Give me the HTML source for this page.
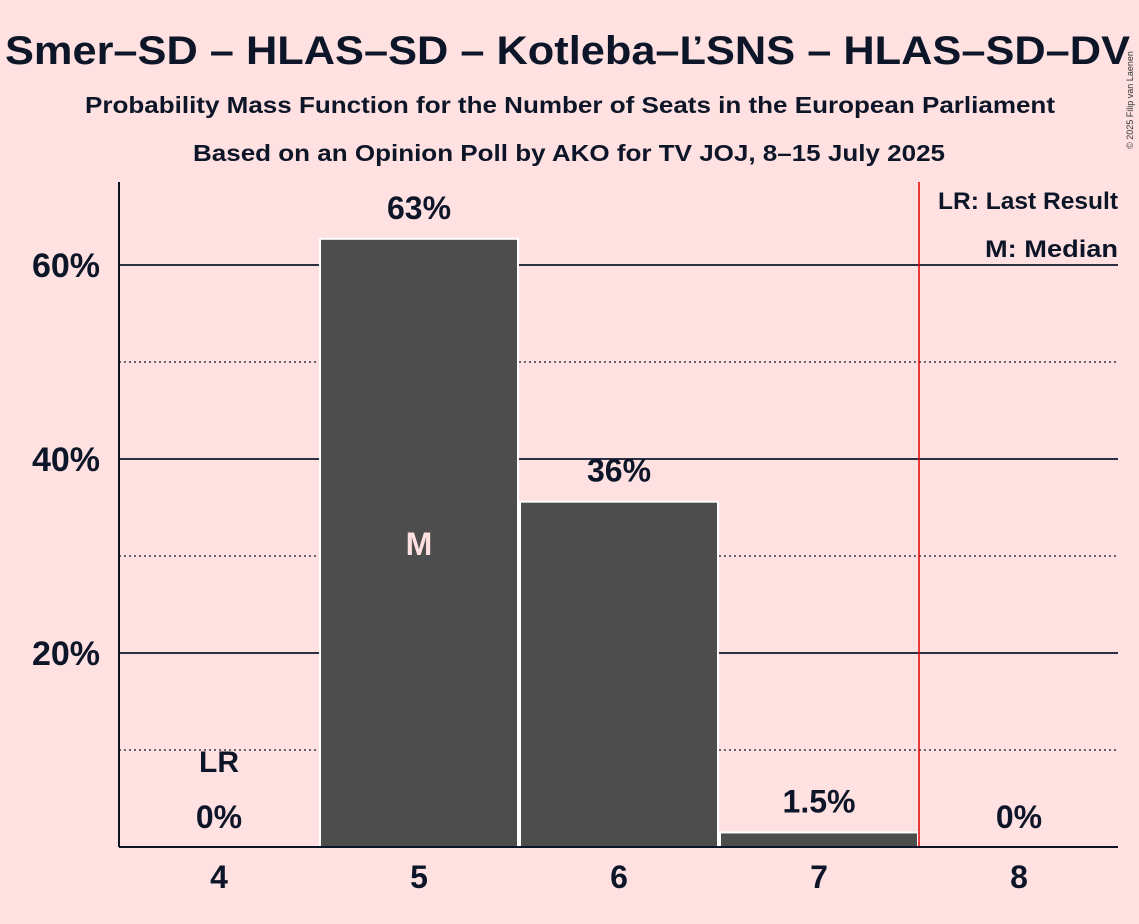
<!DOCTYPE html>
<html><head><meta charset="utf-8"><style>
body{margin:0;background:#FFE1E1;}
svg{display:block;font-family:"Liberation Sans",sans-serif;}
</style></head><body>
<svg id="c" width="1139" height="924">
<rect width="1139" height="924" fill="#FFE1E1"/>
<text x="5" y="64" font-size="40" font-weight="bold" fill="#0d1628" textLength="1125" lengthAdjust="spacingAndGlyphs">Smer–SD – HLAS–SD – Kotleba–ĽSNS – HLAS–SD–DV</text>
<text x="85" y="113" font-size="23" font-weight="bold" fill="#0d1628" textLength="970" lengthAdjust="spacingAndGlyphs">Probability Mass Function for the Number of Seats in the European Parliament</text>
<text x="193" y="161" font-size="23" font-weight="bold" fill="#0d1628" textLength="752" lengthAdjust="spacingAndGlyphs">Based on an Opinion Poll by AKO for TV JOJ, 8–15 July 2025</text>
<text x="1133" y="100" font-size="9" fill="#333" transform="rotate(-90 1133 100)" text-anchor="middle">© 2025 Filip van Laenen</text>
<g id="grid"></g><g id="bars"></g><g id="labels"></g>
<text x="1118" y="209" text-anchor="end" font-size="24" font-weight="bold" fill="#0d1628" textLength="180" lengthAdjust="spacingAndGlyphs">LR: Last Result</text>
<text x="1118" y="257" text-anchor="end" font-size="24" font-weight="bold" fill="#0d1628" textLength="133" lengthAdjust="spacingAndGlyphs">M: Median</text>
</svg>
<script>
const categories=[4,5,6,7,8];
const values=[0,62.7,35.6,1.5,0];
const valueLabels=["0%","63%","36%","1.5%","0%"];
const yTicks=[20,40,60];
const yMinor=[10,30,50];
const lastResult=4, median=5, majority=7.5;
const ns="http://www.w3.org/2000/svg";
const x0=119,bw=200,y0=847,k=9.7;
const X=c=>x0+(c-4)*bw+bw/2, Y=v=>y0-v*k;
function mk(t,a,p){const e=document.createElementNS(ns,t);for(const q in a)e.setAttribute(q,a[q]);p.appendChild(e);return e;}
const g=document.getElementById('grid'),b=document.getElementById('bars'),l=document.getElementById('labels');
yMinor.forEach(v=>{const e=mk('line',{x1:x0,x2:1118,y1:Y(v),y2:Y(v),stroke:'#0d1628','stroke-width':1.2,'stroke-dasharray':'2,3'},g);

});
yTicks.forEach(v=>{const e=mk('line',{x1:x0,x2:1118,y1:Y(v),y2:Y(v),stroke:'#0d1628','stroke-width':1.8},g);


const t=mk('text',{x:100,y:Y(v)+12,'text-anchor':'end','font-size':34,'font-weight':'bold',fill:'#0d1628'},l);t.textContent=v+'%';

});
categories.forEach((c,i)=>{
 const v=values[i];
 if(v>0){const r=mk('rect',{x:X(c)-bw/2+1,y:Y(v),width:bw-2,height:v*k,fill:'#4d4d4d',stroke:'#fff','stroke-width':2},b);
 
 }
 const t=mk('text',{x:X(c),y:Y(v)-20,'text-anchor':'middle','font-size':32,'font-weight':'bold',fill:'#0d1628'},l);
 if(v<=5) t.setAttribute('y',v>0?Y(v)-20:828);
 t.textContent=valueLabels[i];
 
 
 const xt=mk('text',{x:X(c),y:888,'text-anchor':'middle','font-size':32,'font-weight':'bold',fill:'#0d1628'},l);xt.textContent=c;
 
 
 if(c===lastResult){const lr=mk('text',{x:X(c),y:772,'text-anchor':'middle','font-size':30,'font-weight':'bold',fill:'#0d1628'},l);lr.textContent='LR';
 
 }
 if(c===median){const m=mk('text',{x:X(c),y:Y(v/2)+12,'text-anchor':'middle','font-size':32,'font-weight':'bold',fill:'#FFE1E1'},l);m.textContent='M';
 
 }
});
const ml=mk('line',{x1:X(majority),x2:X(majority),y1:182,y2:y0,stroke:'#e00000','stroke-width':1.5},l);


const ya=mk('line',{x1:x0,x2:x0,y1:182,y2:y0,stroke:'#0d1628','stroke-width':2},l);


const xa=mk('line',{x1:x0,x2:1118,y1:y0,y2:y0,stroke:'#0d1628','stroke-width':2},l);


</script>
</body></html>
